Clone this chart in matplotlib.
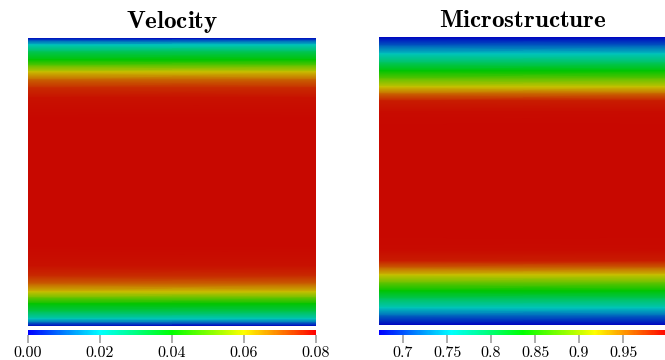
import numpy as np
import matplotlib.pyplot as plt
from matplotlib.colors import LinearSegmentedColormap, Normalize
from matplotlib.cm import ScalarMappable

plt.rcParams['mathtext.fontset'] = 'cm'

# profiles across the channel: distance from the wall (px of a 144 px half
# height) and the value read from the colours; the profile is symmetric
vel_wall_dist = [0, 3, 7, 14, 22, 28, 34, 42, 50, 60, 80, 144]
vel_values = [0.000, 0.010, 0.020, 0.031, 0.040, 0.050, 0.060, 0.070,
              0.076, 0.079, 0.080, 0.080]

ms_wall_dist = [0, 9, 17, 26, 34, 42, 50, 57, 64, 75, 90, 144]
ms_values = [0.673, 0.714, 0.755, 0.796, 0.836, 0.877, 0.918, 0.959,
             0.990, 0.998, 1.000, 1.000]

vel_range = (0.0, 0.08)
vel_ticks = [0.0, 0.02, 0.04, 0.06, 0.08]
vel_labels = ["0.00", "0.02", "0.04", "0.06", "0.08"]

ms_range = (0.6727, 1.0)
ms_ticks = [0.7, 0.75, 0.8, 0.85, 0.9, 0.95]
ms_labels = ["0.7", "0.75", "0.8", "0.85", "0.9", "0.95"]

rainbow = ['#0000ff', '#00ffff', '#00ff00', '#ffff00', '#ff0000']
bar_cmap = LinearSegmentedColormap.from_list('bar', rainbow)
# the rendered surface is shaded, so the field colours are darker
field_cmap = LinearSegmentedColormap.from_list(
    'field', ['#0000c0', '#00c4bc', '#00c400', '#c8c000', '#c80800'])

W, H = 665, 360
fig = plt.figure(figsize=(W / 100, H / 100), dpi=100)


def draw_panel(x0, top, dist, vals, vrange, ticks, labels, title):
    ax = fig.add_axes([x0 / W, 1 - (top + 288) / H, 288 / W, 288 / H])
    d = np.array(dist, dtype=float) / 144
    v = np.array(vals, dtype=float)
    y = np.concatenate([d, 2 - d[::-1][1:]])
    c = np.concatenate([v, v[::-1][1:]])
    X, Y = np.meshgrid([0, 1], y)
    ax.pcolormesh(X, Y, np.column_stack([c, c]), cmap=field_cmap,
                  vmin=vrange[0], vmax=vrange[1], shading='gouraud')
    ax.set_xlim(0, 1)
    ax.set_ylim(2, 0)
    ax.set_axis_off()
    ax.set_title(r'$\mathbf{%s}$' % title, fontsize=18, pad=7)

    cax = fig.add_axes([x0 / W, 1 - 335.3 / H, 288 / W, 5.3 / H])
    sm = ScalarMappable(norm=Normalize(*vrange), cmap=bar_cmap)
    cb = fig.colorbar(sm, cax=cax, orientation='horizontal')
    cb.set_ticks(ticks, labels=labels)
    cb.outline.set_visible(False)
    cax.tick_params(axis='x', direction='out', length=6, width=1.2,
                    color='#a0a0a0', pad=2, labelsize=11.5,
                    labelfontfamily='cmr10')
    return ax


draw_panel(28, 38, vel_wall_dist, vel_values, vel_range,
           vel_ticks, vel_labels, 'Velocity')
draw_panel(379, 37, ms_wall_dist, ms_values, ms_range,
           ms_ticks, ms_labels, 'Microstructure')

fig.savefig('out.png', dpi=100)
